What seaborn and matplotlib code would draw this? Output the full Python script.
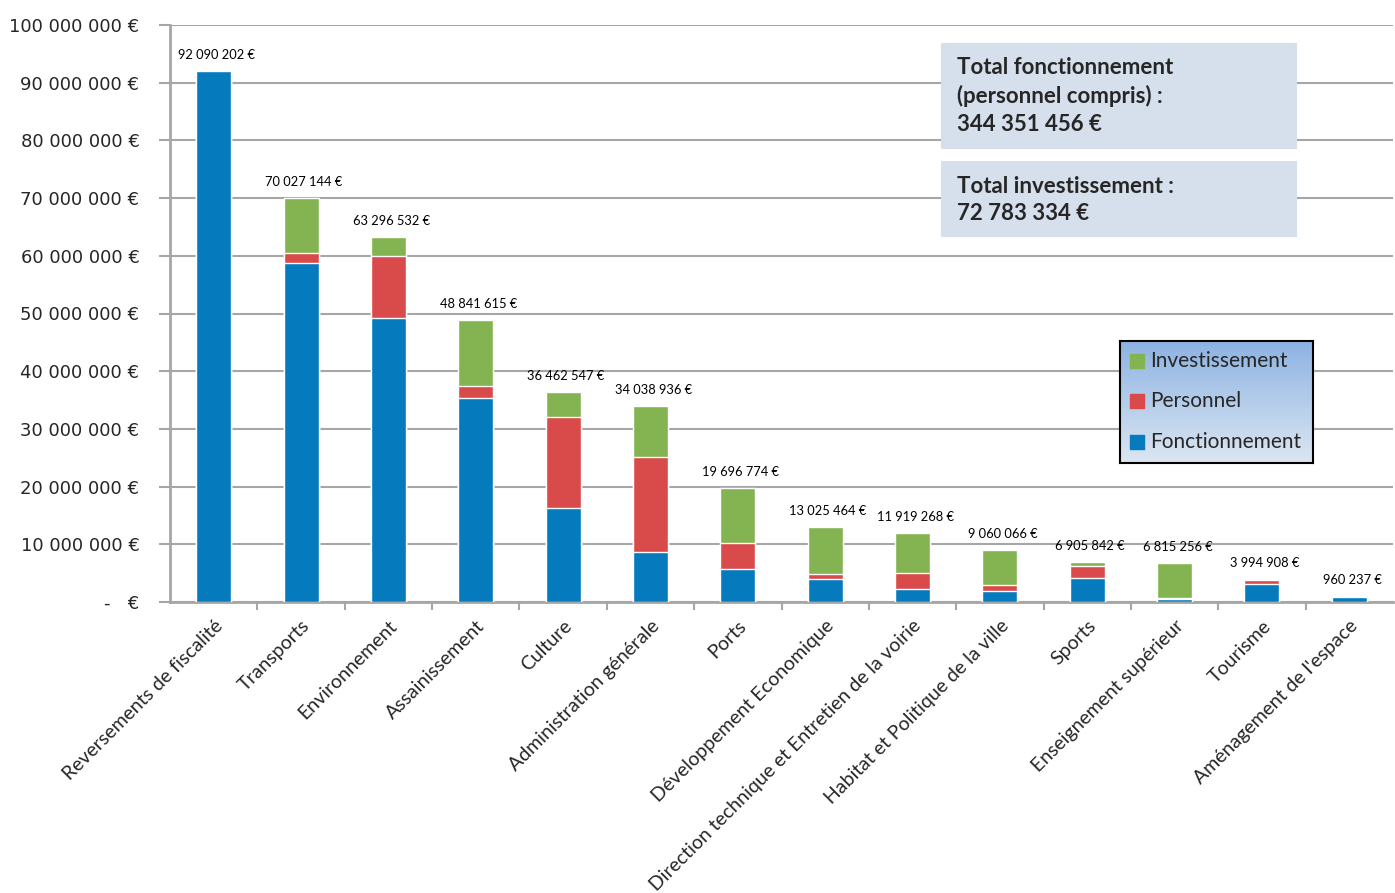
import numpy as np
import pandas as pd
import matplotlib
matplotlib.use("Agg")
import matplotlib.pyplot as plt
from matplotlib.colors import LinearSegmentedColormap
from matplotlib.patches import Rectangle
import matplotlib.ticker as mticker
import seaborn as sns

# Categories and values (euros)
categories = [
    "Reversements de fiscalité", "Transports", "Environnement", "Assainissement",
    "Culture", "Administration générale", "Ports", "Développement Economique",
    "Direction technique et Entretien de la voirie", "Habitat et Politique de la ville",
    "Sports", "Enseignement supérieur", "Tourisme", "Aménagement de l'espace",
]
fonctionnement = [92090202, 58800000, 49200000, 35400000, 16300000, 8700000, 5800000,
                  4000000, 2300000, 1850000, 4200000, 600000, 3100000, 900000]
personnel = [0, 1700000, 10800000, 2100000, 15800000, 16400000, 4500000,
             900000, 2800000, 1100000, 2000000, 50000, 750000, 60237]
investissement = [0, 9527144, 3296532, 11341615, 4362547, 8938936, 9396774,
                  8125464, 6819268, 6110066, 705842, 6165256, 144908, 0]
total_labels = ["92 090 202 €", "70 027 144 €", "63 296 532 €", "48 841 615 €",
                "36 462 547 €", "34 038 936 €", "19 696 774 €", "13 025 464 €",
                "11 919 268 €", "9 060 066 €", "6 905 842 €", "6 815 256 €",
                "3 994 908 €", "960 237 €"]
total_fonct_text = "Total fonctionnement\n(personnel compris) :\n344 351 456 €"
total_invest_text = "Total investissement :\n72 783 334 €"

BLUE = "#057BBD"
RED = "#D94B4B"
GREEN = "#84B351"
GRID = "#A6A6A6"

sns.set_theme(style="white")
plt.rcParams["font.family"] = ["Lato", "DejaVu Sans"]

df = pd.DataFrame({
    "categorie": categories,
    "fonct": fonctionnement,
    "pers": personnel,
    "inv": investissement,
})
df["fonct_pers"] = df["fonct"] + df["pers"]
df["total"] = df["fonct_pers"] + df["inv"]

fig = plt.figure(figsize=(13.95, 8.93), dpi=100)
ax = fig.add_axes([170 / 1395, 1 - 602 / 893, 1223 / 1395, 577 / 893])

# overlaid cumulative bars = stacked look
sns.barplot(data=df, x="categorie", y="total", color=GREEN, saturation=1,
            width=0.4, ax=ax, zorder=3)
sns.barplot(data=df, x="categorie", y="fonct_pers", color=RED, saturation=1,
            width=0.4, ax=ax, zorder=3)
sns.barplot(data=df, x="categorie", y="fonct", color=BLUE, saturation=1,
            width=0.4, ax=ax, zorder=3)

ax.set_xlim(-0.5, len(categories) - 0.5)
ax.set_ylim(0, 100_000_000)
ax.set_xlabel("")
ax.set_ylabel("")

# value labels above bars
for i, (tot, lab) in enumerate(zip(df["total"], total_labels)):
    ax.annotate(lab, (i, tot), xytext=(2, 11.5), textcoords="offset points",
                ha="center", va="center", fontsize=9.3, color="black")

# y axis
ax.yaxis.set_major_locator(mticker.MultipleLocator(10_000_000))


def euro_fmt(v, pos):
    if v == 0:
        return "-   €"
    return f"{int(v):,} €".replace(",", " ")


ax.yaxis.set_major_formatter(mticker.FuncFormatter(euro_fmt))
ax.grid(axis="y", color=GRID, linewidth=1.5, zorder=0)
ax.set_axisbelow(True)
ax.tick_params(axis="y", which="major", length=8, width=1.5, color=GRID,
               direction="out", pad=14, labelsize=13, left=True)
for t in ax.get_yticklabels():
    t.set_family("DejaVu Sans")

# x axis
ax.set_xticks(range(len(categories)))
ax.set_xticklabels(categories, rotation=45, ha="right", rotation_mode="anchor",
                   fontsize=14)
ax.tick_params(axis="x", which="major", length=0, pad=11)
ax.set_xticks(np.arange(0.5, len(categories) - 0.5, 1), minor=True)
ax.tick_params(axis="x", which="minor", length=6, width=1.5, color=GRID,
               direction="out", bottom=True)

for side in ["top", "right"]:
    ax.spines[side].set_visible(False)
for side in ["left", "bottom"]:
    ax.spines[side].set_color(GRID)
    ax.spines[side].set_linewidth(2)

# summary boxes
box_color = "#D5E0EC"
fig.add_artist(Rectangle((941 / 1395, 1 - 149 / 893), 356 / 1395, 106 / 893,
                         transform=fig.transFigure, facecolor=box_color,
                         edgecolor="none", zorder=5))
fig.text(957 / 1395, 1 - 96 / 893, total_fonct_text, fontsize=16,
         fontweight="bold", va="center", ha="left", linespacing=1.4, zorder=6)
fig.add_artist(Rectangle((941 / 1395, 1 - 237 / 893), 356 / 1395, 76 / 893,
                         transform=fig.transFigure, facecolor=box_color,
                         edgecolor="none", zorder=5))
fig.text(957 / 1395, 1 - 200 / 893, total_invest_text, fontsize=16,
         fontweight="bold", va="center", ha="left", linespacing=1.4, zorder=6)

# legend with gradient background
lax = fig.add_axes([1120 / 1395, 1 - 463 / 893, 193 / 1395, 122 / 893])
grad_cmap = LinearSegmentedColormap.from_list("leg", ["#8DB3E2", "#DCE6F2"])
lax.imshow(np.linspace(0, 1, 100).reshape(-1, 1), aspect="auto", cmap=grad_cmap,
           extent=[0, 1, 0, 1], origin="upper")
lax.set_xlim(0, 1)
lax.set_ylim(0, 1)
lax.set_xticks([])
lax.set_yticks([])
for s in lax.spines.values():
    s.set_color("black")
    s.set_linewidth(1.5)
    s.set_visible(True)
legend_items = [("Investissement", GREEN), ("Personnel", RED), ("Fonctionnement", BLUE)]
for (name, col), yy in zip(legend_items, [0.836, 0.508, 0.172]):
    lax.scatter([0.088], [yy], marker="s", s=110, color=col, zorder=3)
    lax.text(0.155, yy, name, fontsize=15, va="center", ha="left")

fig.savefig("out.png", dpi=100)
